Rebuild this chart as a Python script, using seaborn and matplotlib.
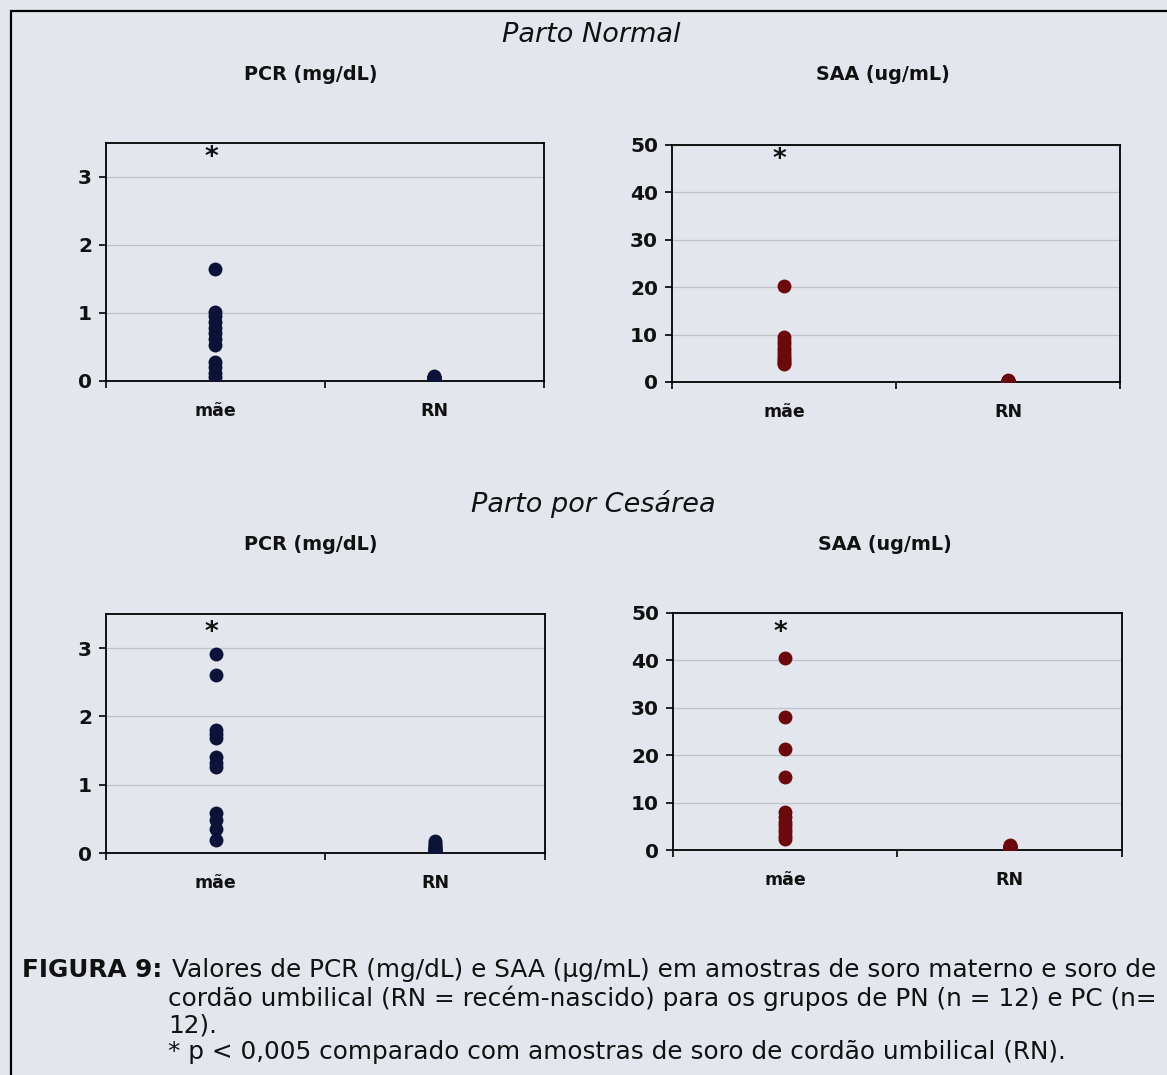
import numpy as np
import pandas as pd
import matplotlib
matplotlib.use("Agg")
import matplotlib.pyplot as plt
import seaborn as sns
from matplotlib.patches import Rectangle

# ---------------- data ----------------
categories = ["mãe", "RN"]

pn_pcr_mae = [1.64, 1.02, 0.95, 0.86, 0.78, 0.70, 0.62, 0.53, 0.28, 0.20, 0.12, 0.06]
pn_pcr_rn = [0.07, 0.06, 0.06, 0.05, 0.05, 0.04, 0.04, 0.04, 0.03, 0.03, 0.02, 0.02]
pn_saa_mae = [20.3, 9.4, 8.6, 7.9, 7.2, 6.5, 5.9, 5.3, 4.8, 4.4, 4.0, 3.7]
pn_saa_rn = [0.4, 0.3, 0.3, 0.3, 0.2, 0.2, 0.2, 0.2, 0.1, 0.1, 0.1, 0.1]
pc_pcr_mae = [2.92, 2.60, 1.80, 1.74, 1.68, 1.41, 1.32, 1.26, 0.58, 0.49, 0.35, 0.19]
pc_pcr_rn = [0.17, 0.14, 0.12, 0.10, 0.08, 0.07, 0.06, 0.05, 0.04, 0.03, 0.02, 0.01]
pc_saa_mae = [40.4, 28.1, 21.4, 15.3, 8.1, 7.0, 6.0, 5.2, 4.5, 3.8, 3.0, 2.3]
pc_saa_rn = [1.0, 0.9, 0.8, 0.8, 0.7, 0.6, 0.6, 0.5, 0.5, 0.4, 0.4, 0.3]

star_pcr_pn = 3.28
star_saa_pn = 46.8
star_pcr_pc = 3.22
star_saa_pc = 45.8

pcr_ticks = [0, 1, 2, 3]
saa_ticks = [0, 10, 20, 30, 40, 50]

title_pcr = "PCR (mg/dL)"
title_saa = "SAA (ug/mL)"
group_titles = ["Parto Normal", "Parto por Cesárea"]

caption_bold = "FIGURA 9:"
caption_lines = [
    "Valores de PCR (mg/dL) e SAA (µg/mL) em amostras de soro materno e soro de",
    "cordão umbilical (RN = recém-nascido) para os grupos de PN (n = 12) e PC (n=",
    "12).",
    "* p < 0,005 comparado com amostras de soro de cordão umbilical (RN).",
]

# ---------------- style ----------------
sns.set_theme(style="white")
plt.rcParams["font.family"] = ["DejaVu Sans"]

BG = "#e3e6ed"
NAVY = "#0c1238"
DARKRED = "#6a0a0c"
INK = "#111111"

fig = plt.figure(figsize=(11.67, 10.75), dpi=100, facecolor=BG)

# frame around figure (scan border)
fig.patches.append(Rectangle((11 / 1167, -0.05), 1.2, 1 - 11 / 1075 + 0.05,
                             transform=fig.transFigure, fill=False,
                             edgecolor="black", linewidth=1.6))


def make_df(mae, rn):
    return pd.DataFrame({
        "grupo": [categories[0]] * len(mae) + [categories[1]] * len(rn),
        "valor": list(mae) + list(rn),
    })


def panel(rect, mae, rn, color, ymax, yticks, star_y):
    ax = fig.add_axes(rect)
    ax.set_facecolor(BG)
    df = make_df(mae, rn)
    sns.stripplot(data=df, x="grupo", y="valor", order=categories,
                  jitter=False, color=color, size=10, linewidth=0, ax=ax)
    ax.set_xlim(-0.5, 1.5)
    ax.set_ylim(0, ymax)
    ax.set_yticks(yticks)
    ax.set_yticklabels([str(t) for t in yticks], fontsize=14.5,
                       fontweight="bold", color=INK)
    ax.set_xticks([-0.5, 0.5, 1.5])
    ax.set_xticklabels([])
    ax.set_xticks([0, 1], minor=True)
    ax.set_xticklabels(categories, minor=True, fontsize=12.5,
                       fontweight="bold", color=INK)
    ax.tick_params(axis="x", which="major", direction="out", length=5,
                   width=1.2, color="black", bottom=True)
    ax.tick_params(axis="x", which="minor", length=0, pad=15)
    ax.tick_params(axis="y", direction="out", length=5, width=1.2,
                   color="black", left=True, pad=5)
    for t in yticks[1:]:
        ax.axhline(t, color="#bfc2ca", lw=0.9, zorder=0)
    for s in ax.spines.values():
        s.set_color("black")
        s.set_linewidth(1.3)
        s.set_visible(True)
    ax.set_xlabel("")
    ax.set_ylabel("")
    ax.text(-0.02, star_y, "*", ha="center", va="center", fontsize=19,
            fontweight="bold", color=INK)
    return ax


panel([0.0908, 0.6456, 0.3753, 0.2214], pn_pcr_mae, pn_pcr_rn, NAVY, 3.5,
      pcr_ticks, star_pcr_pn)
panel([0.5758, 0.6447, 0.3839, 0.2205], pn_saa_mae, pn_saa_rn, DARKRED, 50,
      saa_ticks, star_saa_pn)
panel([0.0908, 0.2065, 0.3762, 0.2223], pc_pcr_mae, pc_pcr_rn, NAVY, 3.5,
      pcr_ticks, star_pcr_pc)
panel([0.5767, 0.2093, 0.3847, 0.2205], pc_saa_mae, pc_saa_rn, DARKRED, 50,
      saa_ticks, star_saa_pc)

# group titles
fig.text(591 / 1167, 1 - 35 / 1075, group_titles[0], ha="center", va="center",
         fontsize=19.5, fontstyle="italic", color=INK)
fig.text(593 / 1167, 1 - 504 / 1075, group_titles[1], ha="center", va="center",
         fontsize=19.5, fontstyle="italic", color=INK)

# panel titles
for x, y, t in [(311, 75, title_pcr), (883, 75, title_saa),
                (311, 545, title_pcr), (885, 545, title_saa)]:
    fig.text(x / 1167, 1 - y / 1075, t, ha="center", va="center",
             fontsize=13.8, fontweight="bold", color=INK)

# caption
cap_fs = 17.8
fig.text(22 / 1167, 1 - 970 / 1075, caption_bold, ha="left", va="center",
         fontsize=cap_fs, fontweight="bold", color=INK)
ys = [970, 998, 1025, 1052]
xs = [172, 168, 168, 168]
for line, x, y in zip(caption_lines, xs, ys):
    fig.text(x / 1167, 1 - y / 1075, line,
             ha="left", va="center", fontsize=cap_fs, color=INK)

fig.savefig("out.png", dpi=100, facecolor=BG)
